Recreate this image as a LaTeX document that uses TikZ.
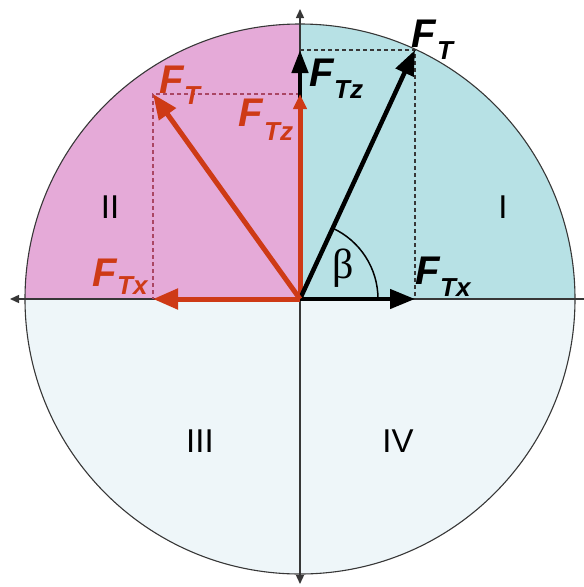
\documentclass[tikz,border=0pt]{standalone}
\usepackage{fontspec}
\newfontfamily\labfont{Liberation Sans}
\newfontfamily\betafont{Liberation Serif}
\usetikzlibrary{arrows.meta}
\definecolor{pinkq}{RGB}{229,170,216}
\definecolor{cyanq}{RGB}{183,225,229}
\definecolor{lowq}{RGB}{238,246,249}
\definecolor{redv}{RGB}{206,58,22}
\definecolor{reddash}{RGB}{170,70,100}
\definecolor{axisc}{RGB}{55,55,55}
\tikzset{
  flab/.style={inner sep=0pt, anchor=base west, font=\labfont\bfseries\itshape\fontsize{40}{40}\selectfont},
  slab/.style={inner sep=0pt, anchor=base west, font=\labfont\bfseries\itshape\fontsize{26}{26}\selectfont},
  quad/.style={inner sep=0pt, font=\labfont\fontsize{33}{33}\selectfont},
  axis/.style={draw=axisc, line width=1.4pt},
  axtip/.style={-{Triangle[length=9pt,width=8pt]}},
  bvec/.style={draw=black, line width=4.5pt, -{Triangle[length=25pt,width=19pt]}},
  rvec/.style={draw=redv, line width=5pt, -{Triangle[length=25pt,width=20pt]}},
  bdash/.style={draw=axisc, line width=1.1pt, dash pattern=on 4pt off 3pt},
  rdash/.style={draw=reddash, line width=1.1pt, dash pattern=on 4pt off 3pt},
}
\begin{document}
\begin{tikzpicture}[x=1pt,y=-1pt]
\useasboundingbox (0,0) rectangle (584,587);
\coordinate (O) at (300,299);
\coordinate (B) at (415,50);
\coordinate (Bz) at (300,50);
\coordinate (Bx) at (415,299);
\coordinate (R) at (153,94);
\coordinate (Rz) at (300,94);
\coordinate (Rx) at (153,299);
\coordinate (XL) at (10,299);
\coordinate (XR) at (584,299);
\coordinate (YT) at (300,9);
\coordinate (YB) at (300,584);
% quadrant fills
\fill[lowq] (25,299) arc (180:0:275) -- cycle;
\fill[cyanq] (O) -- (575,299) arc (0:-90:275) -- cycle;
\fill[pinkq] (O) -- (300,24) arc (-90:-180:275) -- cycle;
\draw[axisc, line width=1.1pt] (O) circle (275);
% axes
\draw[axis, axtip] (XR) -- (XL);
\draw[axis, {Triangle[length=9pt,width=8pt]}-{Triangle[length=9pt,width=8pt]}] (YT) -- (YB);
% dashed projections
\draw[bdash] (Bz) -- (B) -- (Bx);
\draw[rdash] (Rz) -- (R) -- (Rx);
% angle arc
\draw[black, line width=1.5pt] (378,299) arc (0:-65.2:78);
\node[inner sep=0pt, font=\betafont\fontsize{42}{42}\selectfont] (beta) at (343,268) {β};
% vectors
\draw[bvec, -{Triangle[length=23pt,width=16pt]}] (O) -- (Bz);
\draw[rvec, -{Triangle[length=15pt,width=13pt]}] (O) -- (Rz);
\draw[bvec] (O) -- (Bx);
\draw[bvec] (O) -- (B);
\draw[rvec] (O) -- (Rx);
\draw[rvec] (O) -- (R);
% labels
\node[flab] (lbF) at (411,47) {F};
\node[slab] (lbFs) at (437,59) {T};
\node[flab] (lbzF) at (309,86) {F};
\node[slab] (lbzFs) at (334,98) {Tz};
\node[flab] (lbxF) at (415,284) {F};
\node[slab] (lbxFs) at (440,296) {Tx};
\node[flab, text=redv] (lrF) at (159,93) {F};
\node[slab, text=redv] (lrFs) at (184,104) {T};
\node[flab, text=redv] (lrzF) at (238,126) {F};
\node[slab, text=redv] (lrzFs) at (264,140) {Tz};
\node[flab, text=redv] (lrxF) at (92,286) {F};
\node[slab, text=redv] (lrxFs) at (117,294) {Tx};
% quadrant numerals
\node[quad] (q1) at (503,207) {I};
\node[quad] (q2) at (110,207) {II};
\node[quad] (q3) at (200,441) {III};
\node[quad] (q4) at (398,441) {IV};
\end{tikzpicture}
\end{document}
